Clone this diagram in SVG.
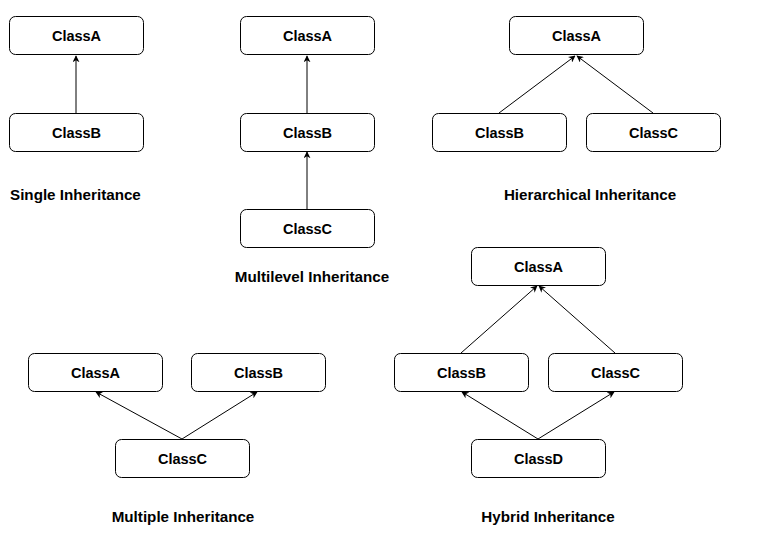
<svg xmlns="http://www.w3.org/2000/svg" width="768" height="537" viewBox="0 0 768 537">
<style>
.b{fill:#fff;stroke:#000;stroke-width:1}
.t{font-family:"Liberation Sans",Arial,sans-serif;font-weight:bold;font-size:14.5px;text-anchor:middle;fill:#000}
.k{font-family:"Liberation Sans",Arial,sans-serif;font-weight:bold;font-size:15.2px;text-anchor:middle;fill:#000}
.l{font-family:"Liberation Sans",Arial,sans-serif;font-weight:bold;font-size:15.2px;fill:#000}
.c line{stroke:#000;stroke-width:1;marker-end:url(#a)}
</style>
<defs><marker id="a" viewBox="0 0 10 10" refX="9" refY="5" markerWidth="7" markerHeight="7" orient="auto" markerUnits="userSpaceOnUse"><path d="M0,0 L10,5 L0,10 L3,5 Z" fill="#000"/></marker></defs>
<rect width="768" height="537" fill="#fff"/>
<g class="c">
<line x1="76" y1="113" x2="76" y2="56"/>
<line x1="307" y1="113" x2="307" y2="56"/>
<line x1="307" y1="209" x2="307" y2="152"/>
<line x1="499" y1="113" x2="575" y2="56"/>
<line x1="653" y1="113" x2="577" y2="56"/>
<line x1="461" y1="353" x2="537" y2="286"/>
<line x1="615" y1="353" x2="539" y2="286"/>
<line x1="538" y1="439" x2="462" y2="392"/>
<line x1="538" y1="439" x2="614" y2="392"/>
<line x1="182" y1="439" x2="96" y2="392"/>
<line x1="182" y1="439" x2="257" y2="392"/>
</g>
<g id="s-a"><rect class="b" x="9.5" y="16.5" width="134" height="38" rx="6"/><text class="t" x="76.5" y="41">ClassA</text></g>
<g id="s-b"><rect class="b" x="9.5" y="113.5" width="134" height="38" rx="6"/><text class="t" x="76.5" y="138">ClassB</text></g>
<text class="l" x="10" y="200">Single Inheritance</text>
<g id="m-a"><rect class="b" x="240.5" y="16.5" width="134" height="38" rx="6"/><text class="t" x="307.5" y="41">ClassA</text></g>
<g id="m-b"><rect class="b" x="240.5" y="113.5" width="134" height="38" rx="6"/><text class="t" x="307.5" y="138">ClassB</text></g>
<g id="m-c"><rect class="b" x="240.5" y="209.5" width="134" height="38" rx="6"/><text class="t" x="307.5" y="234">ClassC</text></g>
<text class="k" x="312" y="282">Multilevel Inheritance</text>
<g id="h-a"><rect class="b" x="509.5" y="16.5" width="134" height="38" rx="6"/><text class="t" x="576.5" y="41">ClassA</text></g>
<g id="h-b"><rect class="b" x="432.5" y="113.5" width="134" height="38" rx="6"/><text class="t" x="499.5" y="138">ClassB</text></g>
<g id="h-c"><rect class="b" x="586.5" y="113.5" width="134" height="38" rx="6"/><text class="t" x="653.5" y="138">ClassC</text></g>
<text class="k" x="590" y="200">Hierarchical Inheritance</text>
<g id="y-a"><rect class="b" x="471.5" y="247.5" width="134" height="38" rx="6"/><text class="t" x="538.5" y="272">ClassA</text></g>
<g id="y-b"><rect class="b" x="394.5" y="353.5" width="134" height="38" rx="6"/><text class="t" x="461.5" y="378">ClassB</text></g>
<g id="y-c"><rect class="b" x="548.5" y="353.5" width="134" height="38" rx="6"/><text class="t" x="615.5" y="378">ClassC</text></g>
<g id="y-d"><rect class="b" x="471.5" y="439.5" width="134" height="38" rx="6"/><text class="t" x="538.5" y="464">ClassD</text></g>
<text class="k" x="548" y="522">Hybrid Inheritance</text>
<g id="p-a"><rect class="b" x="28.5" y="353.5" width="134" height="38" rx="6"/><text class="t" x="95.5" y="378">ClassA</text></g>
<g id="p-b"><rect class="b" x="191.5" y="353.5" width="134" height="38" rx="6"/><text class="t" x="258.5" y="378">ClassB</text></g>
<g id="p-c"><rect class="b" x="115.5" y="439.5" width="134" height="38" rx="6"/><text class="t" x="182.5" y="464">ClassC</text></g>
<text class="k" x="183" y="522">Multiple Inheritance</text>
</svg>
